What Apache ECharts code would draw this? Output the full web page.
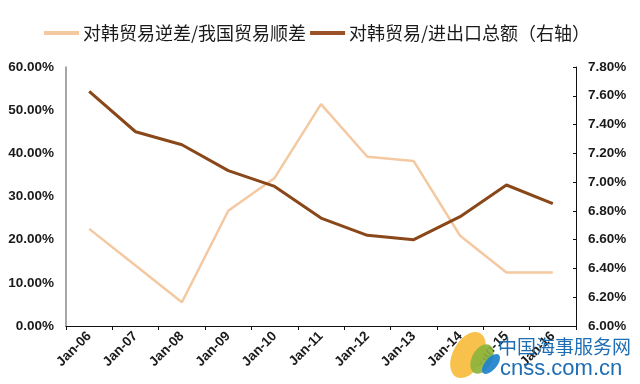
<!DOCTYPE html>
<html><head><meta charset="utf-8">
<script src="https://cdn.jsdelivr.net/npm/echarts@6/dist/echarts.min.js"></script>
<style>html,body{margin:0;padding:0;background:#fff}#c{width:640px;height:384px}</style>
</head><body><div id="c"></div>
<script>
var categories = ['Jan-06','Jan-07','Jan-08','Jan-09','Jan-10','Jan-11','Jan-12','Jan-13','Jan-14','Jan-15','Jan-16'];
var deficitRatio = [22.5, 14.0, 5.5, 26.7, 34.3, 51.4, 39.2, 38.2, 20.9, 12.4, 12.4];
var tradeShare = [7.63, 7.35, 7.26, 7.08, 6.97, 6.75, 6.63, 6.60, 6.76, 6.98, 6.85];
var seriesNames = ['对韩贸易逆差/我国贸易顺差', '对韩贸易/进出口总额（右轴）'];

var chart = echarts.init(document.getElementById('c'));
var labelFont = {fontFamily:'Liberation Sans, Arial, sans-serif', fontWeight:'bold', color:'#1a1a1a'};
chart.setOption({
  animation:false,
  backgroundColor:'#fff',
  legend:{
    left:39, top:23, itemGap:4, itemWidth:35, itemHeight:4, icon:'rect',
    textStyle:{fontFamily:'Noto Sans CJK SC', fontSize:18, color:'#1a1a1a', lineHeight:20, padding:[0,0,0,-1]},
    data:seriesNames
  },
  grid:{left:66, right:64, top:67, bottom:58, containLabel:false},
  xAxis:{
    type:'category', data:categories, boundaryGap:true,
    axisLine:{lineStyle:{color:'#111', width:1}},
    axisTick:{show:true, length:4, inside:false, lineStyle:{color:'#111'}},
    axisLabel:Object.assign({rotate:45, interval:0, fontSize:13.5, margin:8}, labelFont)
  },
  yAxis:[{
    type:'value', min:0, max:60, interval:10, position:'left',
    axisLine:{show:true, lineStyle:{color:'#888', width:1.5}},
    axisTick:{show:false},
    splitLine:{show:false},
    axisLabel:Object.assign({fontSize:13.5, margin:12, formatter:function(v){return v.toFixed(2)+'%';}}, labelFont)
  },{
    type:'value', min:6, max:7.8, interval:0.2, position:'right',
    axisLine:{show:true, lineStyle:{color:'#111', width:1}},
    axisTick:{show:true, inside:true, length:3, lineStyle:{color:'#111'}},
    splitLine:{show:false},
    axisLabel:Object.assign({fontSize:13.5, margin:12, formatter:function(v){return v.toFixed(2)+'%';}}, labelFont)
  }],
  series:[{
    name:seriesNames[0], type:'line', yAxisIndex:0, data:deficitRatio,
    symbol:'none', lineStyle:{color:'#F4C9A2', width:2.5}, itemStyle:{color:'#F4C9A2'}, z:2
  },{
    name:seriesNames[1], type:'line', yAxisIndex:1, data:tradeShare,
    symbol:'none', lineStyle:{color:'#8A4719', width:3}, itemStyle:{color:'#9C5226'}, z:3
  }],
  graphic:[
    {type:'ellipse', z:100, shape:{cx:0, cy:0, rx:15, ry:25}, x:468, y:355, rotation:-0.5, style:{fill:'rgba(246,188,60,0.92)'}},
    {type:'ellipse', z:101, shape:{cx:0, cy:0, rx:10, ry:16}, x:482, y:359, rotation:-0.5, style:{fill:'rgba(140,180,60,0.92)'}},
    {type:'ellipse', z:102, shape:{cx:0, cy:0, rx:6, ry:12}, x:491, y:364, rotation:-0.7, style:{fill:'rgba(30,130,205,0.92)'}},
    {type:'text', z:103, x:498, y:337, style:{text:'中国海事服务网', fill:'#1F6DB3', font:'19px "Noto Sans CJK SC"'}},
    {type:'text', z:103, x:500, y:358, style:{text:'cnss.com.cn', fill:'#1F6DB3', font:'22px "Liberation Sans", Arial, sans-serif'}}
  ]
});
var legendTop = 18;
chart.setOption({legend:{top:legendTop}});
</script></body></html>
